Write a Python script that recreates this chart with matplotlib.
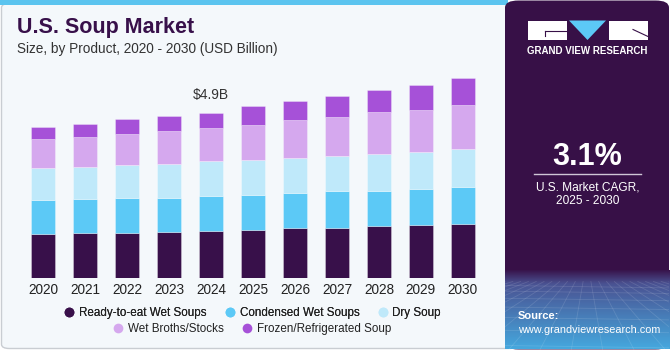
import matplotlib
matplotlib.use('Agg')

import matplotlib.pyplot as plt
import numpy as np
from matplotlib.patches import FancyBboxPatch, Rectangle, Polygon
from matplotlib.lines import Line2D

plt.rcParams['font.family'] = ['Liberation Sans', 'DejaVu Sans']

# data (USD billion)
years = ['2020', '2021', '2022', '2023', '2024', '2025',
         '2026', '2027', '2028', '2029', '2030']
ready_to_eat = [1.31, 1.33, 1.33, 1.36, 1.39, 1.43, 1.48, 1.49, 1.54, 1.57, 1.59]
condensed = [0.99, 1.01, 1.04, 1.02, 1.03, 1.03, 1.05, 1.08, 1.05, 1.08, 1.10]
dry = [0.95, 0.94, 0.97, 1.00, 1.04, 1.03, 1.03, 1.03, 1.09, 1.09, 1.12]
broths = [0.86, 0.89, 0.92, 0.96, 0.99, 1.03, 1.10, 1.16, 1.22, 1.24, 1.32]
frozen = [0.35, 0.38, 0.43, 0.44, 0.44, 0.56, 0.57, 0.63, 0.66, 0.72, 0.77]

segments = ['Ready-to-eat Wet Soups', 'Condensed Wet Soups', 'Dry Soup',
            'Wet Broths/Stocks', 'Frozen/Refrigerated Soup']
colors = ['#38104a', '#5cc9f6', '#bfe9fa', '#d5a8ee', '#a651d8']

W, H = 670, 350
fig = plt.figure(figsize=(W / 100, H / 100), dpi=100)
fig.patch.set_facecolor('white')


def px(x, y):
    # pixel position (from top-left) to figure fraction
    return x / W, 1 - y / H


# backgrounds (kept behind the axes)
main = FancyBboxPatch((1.5 / W, 1.5 / H), 515 / W, 345 / H,
                      boxstyle='round,pad=0,rounding_size=0.012',
                      transform=fig.transFigure, facecolor='#f4f8fb',
                      edgecolor='#c9cdd2', linewidth=1.0, zorder=-5)
fig.add_artist(main)
fig.add_artist(Rectangle((0, 1 - 5 / H), 508 / W, 5 / H, transform=fig.transFigure,
                         facecolor='#5bc4ef', edgecolor='none', zorder=-4))

side = FancyBboxPatch((505 / W, 0.5 / H), 164 / W, 349 / H,
                      boxstyle='round,pad=0,rounding_size=0.02',
                      transform=fig.transFigure, facecolor='#371047',
                      edgecolor='none', zorder=-3)
fig.add_artist(side)

# gradient at the bottom of the side panel
gax = fig.add_axes([505 / W, 0.5 / H, 164 / W, 80 / H], zorder=-2)
c_top = np.array([0x37, 0x10, 0x47]) / 255
c_mid = np.array([0x4a, 0x52, 0x92]) / 255
c_bot = np.array([0x45, 0xa8, 0xde]) / 255
img = np.zeros((100, 1, 3))
for i, g in enumerate(np.linspace(0, 1, 100)):
    if g < 0.18:
        t = g / 0.18
        img[i, 0] = c_top * (1 - t) + c_mid * t
    else:
        t = (g - 0.18) / 0.82
        img[i, 0] = c_mid * (1 - t) + c_bot * t
gax.imshow(img, aspect='auto', extent=[0, 1, 1, 0])
for k in np.linspace(-1.5, 2.5, 22):
    gax.plot([0.5 + (k - 0.5) * 0.25, k], [0.15, 1], color='white', alpha=0.12, lw=0.6)
for yy in [0.2, 0.27, 0.36, 0.47, 0.6, 0.76, 0.95]:
    gax.plot([0, 1], [yy, yy + 0.03], color='white', alpha=0.12, lw=0.6)
gax.set_xlim(0, 1)
gax.set_ylim(1, 0)
gax.axis('off')

# logo
fig.add_artist(Rectangle(px(528, 39.5), 39 / W, 19 / H, transform=fig.transFigure,
                         facecolor='white', edgecolor='none'))
fig.add_artist(Rectangle(px(609, 39.5), 39 / W, 19 / H, transform=fig.transFigure,
                         facecolor='white', edgecolor='none'))
fig.add_artist(Polygon([px(569, 20.5), px(606, 20.5), px(587.5, 40)], closed=True,
                       transform=fig.transFigure, facecolor='#5cc9f6', edgecolor='none'))
fig.add_artist(Line2D([545 / W, 567 / W], [1 - 31 / H, 1 - 31 / H], transform=fig.transFigure,
                      color='#371047', lw=0.8))
fig.add_artist(Line2D([545 / W, 545 / W], [1 - 31 / H, 1 - 36 / H], transform=fig.transFigure,
                      color='#371047', lw=0.8))
fig.add_artist(Line2D([633 / W, 648 / W], [1 - 29.5 / H, 1 - 36.5 / H], transform=fig.transFigure,
                      color='#371047', lw=0.8))
fig.text(*px(587.5, 51), 'GRAND VIEW RESEARCH', color='white', fontsize=7.0,
         fontweight='bold', ha='center', va='center')

# CAGR block
fig.text(*px(587.5, 157), '3.1%', color='white', fontsize=22, fontweight='bold',
         ha='center', va='center')
fig.add_artist(Line2D([534 / W, 641 / W], [1 - 173.5 / H, 1 - 173.5 / H],
                      transform=fig.transFigure, color='#cfc6d6', lw=1.0))
fig.text(*px(587.5, 187), 'U.S. Market CAGR,', color='white', fontsize=8.6,
         ha='center', va='center')
fig.text(*px(587.5, 201), '2025 - 2030', color='white', fontsize=8.6,
         ha='center', va='center')
fig.text(*px(518, 316), 'Source:', color='white', fontsize=8.0, fontweight='bold',
         ha='left', va='center')
fig.text(*px(518, 330), 'www.grandviewresearch.com', color='white', fontsize=7.8,
         ha='left', va='center')

# titles
fig.text(*px(17, 28), 'U.S. Soup Market', color='#38104a', fontsize=15.5,
         fontweight='bold', ha='left', va='center')
fig.text(*px(17, 49), 'Size, by Product, 2020 - 2030 (USD Billion)', color='#333333',
         fontsize=9.8, ha='left', va='center')

# bars
base_px = 278.3
top_px = 70
ax = fig.add_axes([20 / W, 1 - base_px / H, 466 / W, (base_px - top_px) / H])
ax.set_facecolor('none')
x = np.arange(len(years))
data = [ready_to_eat, condensed, dry, broths, frozen]
bottom = np.zeros(len(years))
for vals, col, name in zip(data, colors, segments):
    ax.bar(x, vals, 0.57, bottom=bottom, color=col, label=name,
           edgecolor=(1, 1, 1, 0.35), linewidth=0.6)
    bottom += np.array(vals)

ax.set_xlim(-0.55, 10.55)
ax.set_ylim(0, (base_px - top_px) * 0.02952)
ax.set_xticks(x, years)
ax.tick_params(axis='x', length=0, pad=3.5, labelsize=9.8, colors='#222222')
ax.set_yticks([])
for s in ax.spines.values():
    s.set_visible(False)

ax.annotate('$4.9B', xy=(4, bottom[4]), xytext=(0, 8), textcoords='offset points',
            ha='center', va='bottom', fontsize=10, color='#333333')

# legend in two centred rows
handles = [Line2D([], [], marker='o', ls='none', markersize=7, color=c,
                  markeredgewidth=0) for c in colors]
leg1 = fig.legend(handles[:3], segments[:3], ncol=3, loc='center',
                  bbox_to_anchor=px(252, 313), frameon=False, fontsize=8.4,
                  handletextpad=0.35, columnspacing=1.5, handlelength=1.0,
                  borderpad=0, labelcolor='#222222')
fig.add_artist(leg1)
fig.legend(handles[3:], segments[3:], ncol=2, loc='center',
           bbox_to_anchor=px(252, 329), frameon=False, fontsize=8.4,
           handletextpad=0.35, columnspacing=1.5, handlelength=1.0,
           borderpad=0, labelcolor='#222222')

plt.savefig('out.png', dpi=100)
